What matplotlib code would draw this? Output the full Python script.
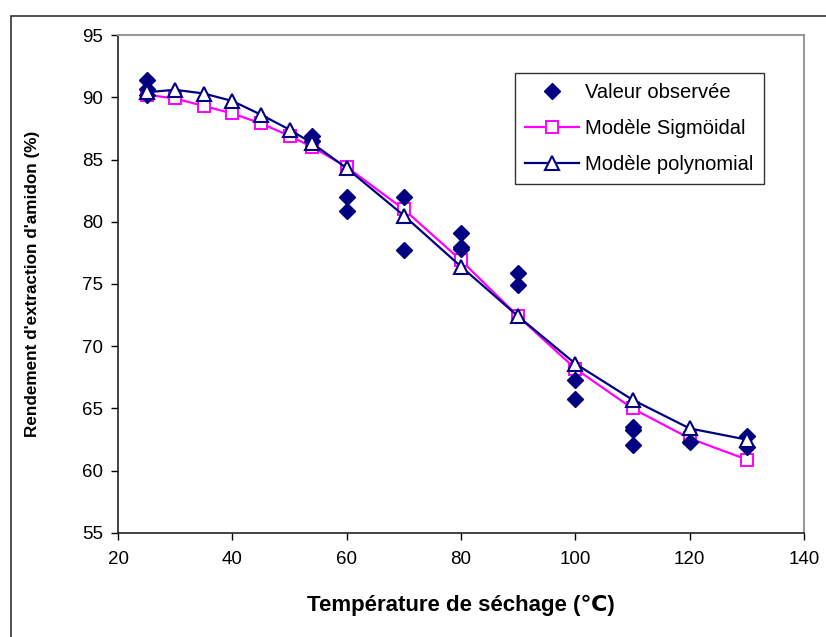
import matplotlib
matplotlib.use("Agg")
import matplotlib.pyplot as plt
from matplotlib.patches import Rectangle

plt.rcParams['font.family'] = ['Liberation Sans', 'DejaVu Sans']

# Observed data
obs_x = [25, 25, 25, 54, 54, 60, 60, 70, 70, 80, 80, 80, 90, 90,
         100, 100, 110, 110, 110, 120, 130, 130]
obs_y = [91.4, 90.7, 90.2, 86.9, 86.5, 82.0, 80.9, 82.0, 77.7, 79.1, 78.0, 77.8, 75.9, 74.9,
         67.3, 65.8, 63.5, 63.3, 62.1, 62.3, 62.8, 61.9]

# Model curves
model_x = [25, 30, 35, 40, 45, 50, 54, 60, 70, 80, 90, 100, 110, 120, 130]
sigmoid_y = [90.2, 89.9, 89.3, 88.7, 87.9, 86.9, 86.0, 84.4, 81.0, 76.9, 72.4, 68.2, 65.0, 62.6, 60.9]
poly_y = [90.4, 90.6, 90.3, 89.7, 88.6, 87.4, 86.3, 84.3, 80.5, 76.4, 72.4, 68.6, 65.7, 63.4, 62.5]

x_ticks = [20, 40, 60, 80, 100, 120, 140]
y_ticks = [55, 60, 65, 70, 75, 80, 85, 90, 95]

fig = plt.figure(figsize=(8.26, 6.37), dpi=100)
W, H = 826, 637
ax = fig.add_axes([118 / W, 1 - 533 / H, (804 - 118) / W, (533 - 35) / H])

# Outer frame
fig.patches.append(Rectangle((11 / W, -0.05), 1.2, 1 - 16 / H + 0.05, transform=fig.transFigure,
                             fill=False, edgecolor='#333333', linewidth=1.2))

navy = '#000080'
mag = '#FF00FF'
ax.plot(obs_x, obs_y, linestyle='none', marker='D', markersize=8.5, color=navy,
        markeredgecolor=navy, label='Valeur observée', zorder=4)
ax.plot(model_x, sigmoid_y, color=mag, linewidth=1.6, marker='s', markersize=8,
        markerfacecolor='white', markeredgecolor=mag, markeredgewidth=1.4,
        label='Modèle Sigmöidal', zorder=3)
ax.plot(model_x, poly_y, color=navy, linewidth=1.6, marker='^', markersize=10,
        markerfacecolor='white', markeredgecolor=navy, markeredgewidth=1.5,
        label='Modèle polynomial', zorder=5)

ax.set_xlim(20, 140)
ax.set_ylim(55, 95)
ax.set_xticks(x_ticks)
ax.set_yticks(y_ticks)
ax.tick_params(axis='both', direction='out', length=5, width=1, labelsize=13.5, colors='black', pad=6)
ax.tick_params(axis='x', pad=8)

for s in ['top', 'right']:
    ax.spines[s].set_color('#999999')
    ax.spines[s].set_linewidth(1.5)
for s in ['left', 'bottom']:
    ax.spines[s].set_color('#222222')
    ax.spines[s].set_linewidth(1.2)

ax.set_xlabel('Température de séchage (℃)', fontsize=16, fontweight='bold', labelpad=19)
ax.set_ylabel("Rendement d'extraction d'amidon (%)", fontsize=12.3, fontweight='bold', labelpad=30)

leg = ax.legend(loc='upper left', bbox_to_anchor=((515 - 118) / (804 - 118), 1 - (73 - 35) / (533 - 35)),
                fontsize=14.5, frameon=True, fancybox=False, edgecolor='black',
                borderpad=0.5, labelspacing=0.85, handlelength=2.7, handletextpad=0.3,
                borderaxespad=0)
leg.get_frame().set_linewidth(1.0)

fig.savefig('out.png', dpi=100)
